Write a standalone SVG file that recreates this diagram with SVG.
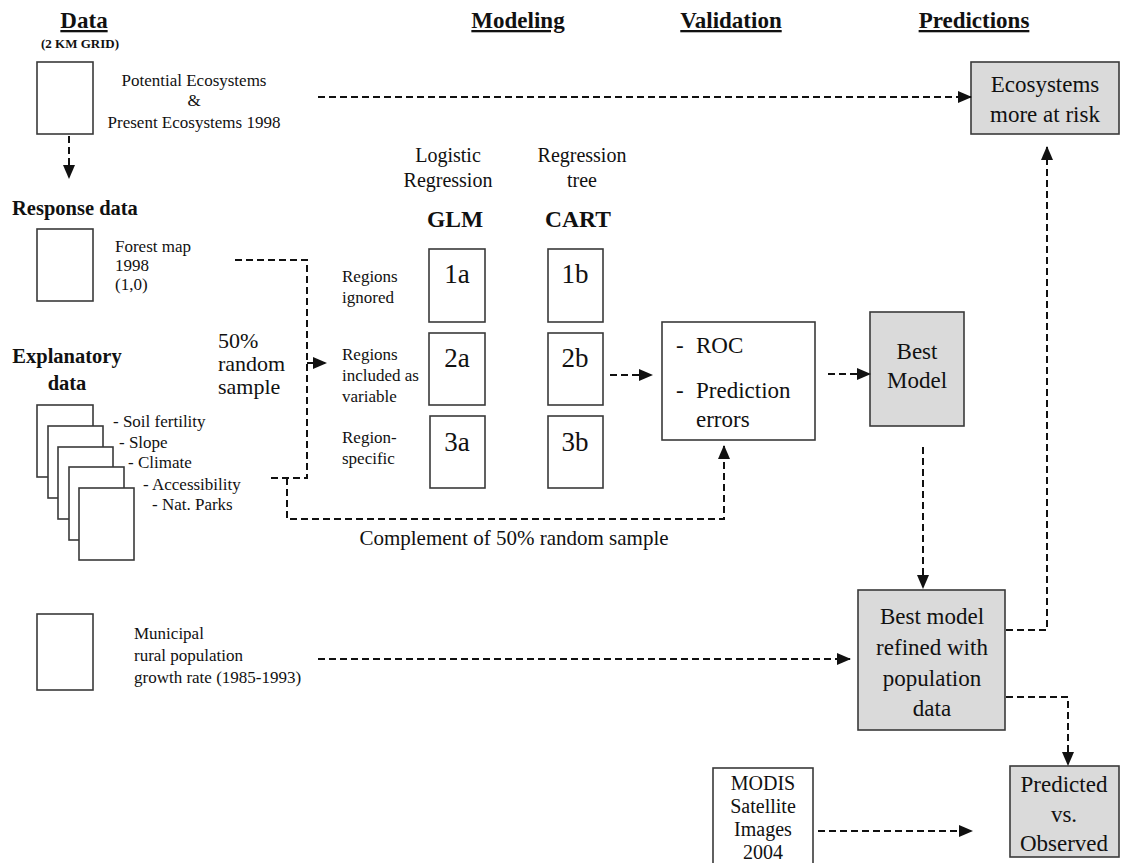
<svg xmlns="http://www.w3.org/2000/svg" width="1121" height="863" viewBox="0 0 1121 863">
<style>
text{font-family:"Liberation Serif","Times New Roman",serif;fill:#111}
.hd{font-size:23px;font-weight:bold;text-decoration:underline;text-anchor:middle}
.b{font-weight:bold}
.s17{font-size:17px}
.s20{font-size:20px}
.s23{font-size:23px}
.s27{font-size:27px}
.c{text-anchor:middle}
.box{fill:#fff;stroke:#3a3a3a;stroke-width:1.6}
.gbox{fill:#dadada;stroke:#3a3a3a;stroke-width:1.6}
.dash{fill:none;stroke:#111;stroke-width:2;stroke-dasharray:7,4}
</style>
<defs>
<marker id="ah" markerUnits="userSpaceOnUse" markerWidth="14" markerHeight="14" refX="13" refY="7" orient="auto">
<path d="M0,1 L14,7 L0,13 z" fill="#111"/>
</marker>
</defs>

<g id="headers">
<text class="hd" x="84" y="28">Data</text>
<text class="b" x="80" y="48" font-size="13" text-anchor="middle">(2 KM GRID)</text>
<text class="hd" x="518" y="28">Modeling</text>
<text class="hd" x="731" y="28">Validation</text>
<text class="hd" x="974" y="28">Predictions</text>
</g>

<g id="n-ecosys-data">
<rect class="box" x="37" y="62" width="56" height="72"/>
<text class="s17 c" x="194" y="86">Potential Ecosystems</text>
<text class="s17 c" x="194" y="106">&amp;</text>
<text class="s17 c" x="194" y="128">Present Ecosystems 1998</text>
</g>

<g id="n-response">
<text class="b" x="12" y="215" font-size="20.5">Response data</text>
<rect class="box" x="37" y="229" width="56" height="72"/>
<text class="s17" x="115" y="252">Forest map</text>
<text class="s17" x="115" y="271">1998</text>
<text class="s17" x="115" y="290">(1,0)</text>
</g>

<g id="n-explanatory">
<text class="b c" x="67" y="363" font-size="20.5">Explanatory</text>
<text class="b c" x="67" y="390" font-size="20.5">data</text>
<rect class="box" x="37" y="405" width="56" height="72"/>
<rect class="box" x="48" y="426" width="55" height="72"/>
<rect class="box" x="58" y="447" width="55" height="72"/>
<rect class="box" x="69" y="467" width="55" height="73"/>
<rect class="box" x="79" y="488" width="55" height="72"/>
<text class="s17" x="113" y="427">- Soil fertility</text>
<text class="s17" x="119" y="448">- Slope</text>
<text class="s17" x="128" y="468">- Climate</text>
<text class="s17" x="143" y="490">- Accessibility</text>
<text class="s17" x="152" y="510">- Nat. Parks</text>
</g>

<g id="n-municipal">
<rect class="box" x="37" y="614" width="56" height="76"/>
<text class="s17" x="134" y="639">Municipal</text>
<text class="s17" x="134" y="661">rural population</text>
<text class="s17" x="134" y="683">growth rate (1985-1993)</text>
</g>

<g id="n-sample-label">
<text x="218" y="348" font-size="22">50%</text>
<text x="218" y="371" font-size="22">random</text>
<text x="218" y="394" font-size="22">sample</text>
</g>

<g id="n-glm-head">
<text class="s20 c" x="448" y="162">Logistic</text>
<text class="s20 c" x="448" y="187">Regression</text>
<text class="b c" x="455" y="227" font-size="23.5">GLM</text>
</g>
<g id="n-cart-head">
<text class="s20 c" x="582" y="162">Regression</text>
<text class="s20 c" x="582" y="187">tree</text>
<text class="b c" x="578" y="227" font-size="23.5">CART</text>
</g>

<g id="n-row-labels">
<text class="s17" x="342" y="282">Regions</text>
<text class="s17" x="342" y="303">ignored</text>
<text class="s17" x="342" y="360">Regions</text>
<text class="s17" x="342" y="381">included as</text>
<text class="s17" x="342" y="402">variable</text>
<text class="s17" x="342" y="443">Region-</text>
<text class="s17" x="342" y="464">specific</text>
</g>

<g id="n-1a"><rect class="box" x="429" y="249" width="56" height="73"/><text class="s27 c" x="457" y="283">1a</text></g>
<g id="n-2a"><rect class="box" x="429" y="333" width="56" height="72"/><text class="s27 c" x="457" y="367">2a</text></g>
<g id="n-3a"><rect class="box" x="430" y="416" width="55" height="72"/><text class="s27 c" x="457" y="451">3a</text></g>
<g id="n-1b"><rect class="box" x="548" y="249" width="55" height="73"/><text class="s27 c" x="575" y="283">1b</text></g>
<g id="n-2b"><rect class="box" x="548" y="333" width="55" height="72"/><text class="s27 c" x="575" y="367">2b</text></g>
<g id="n-3b"><rect class="box" x="548" y="416" width="55" height="72"/><text class="s27 c" x="575" y="451">3b</text></g>

<g id="n-validation">
<rect class="box" x="662" y="322" width="153" height="118"/>
<text class="s23" x="676" y="353">-</text>
<text class="s23" x="696" y="353">ROC</text>
<text class="s23" x="676" y="398">-</text>
<text class="s23" x="696" y="398">Prediction</text>
<text class="s23" x="696" y="427">errors</text>
</g>

<g id="n-best-model">
<rect class="gbox" x="870" y="312" width="94" height="114"/>
<text class="s23 c" x="917" y="359">Best</text>
<text class="s23 c" x="917" y="388">Model</text>
</g>

<g id="n-ecosys-risk">
<rect class="gbox" x="971" y="62" width="148" height="72"/>
<text class="s23 c" x="1045" y="92">Ecosystems</text>
<text class="s23 c" x="1045" y="122">more at risk</text>
</g>

<g id="n-refined">
<rect class="gbox" x="858" y="590" width="147" height="140"/>
<text class="s23 c" x="932" y="624">Best model</text>
<text class="s23 c" x="932" y="655">refined with</text>
<text class="s23 c" x="932" y="686">population</text>
<text class="s23 c" x="932" y="716">data</text>
</g>

<g id="n-modis">
<rect class="box" x="713" y="768" width="100" height="100"/>
<text class="s20 c" x="763" y="790">MODIS</text>
<text class="s20 c" x="763" y="813">Satellite</text>
<text class="s20 c" x="763" y="836">Images</text>
<text class="s20 c" x="763" y="859">2004</text>
</g>

<g id="n-predicted">
<rect class="gbox" x="1010" y="766" width="109" height="91"/>
<text class="s23 c" x="1064" y="792">Predicted</text>
<text class="s23 c" x="1064" y="822">vs.</text>
<text class="s23 c" x="1064" y="851">Observed</text>
</g>

<g id="complement-label">
<text x="514" y="545" font-size="21" text-anchor="middle">Complement of 50% random sample</text>
</g>

<g id="connectors">
<path class="dash" d="M69,136 V178" marker-end="url(#ah)"/>
<path class="dash" d="M318,97 H971" marker-end="url(#ah)"/>
<path class="dash" d="M235,260 H307 V478 H267"/>
<path class="dash" d="M307,363 H326" marker-end="url(#ah)"/>
<path class="dash" d="M287,478 V519 H724 V446" marker-end="url(#ah)"/>
<path class="dash" d="M610,375 H652" marker-end="url(#ah)"/>
<path class="dash" d="M828,374 H870" marker-end="url(#ah)"/>
<path class="dash" d="M923,447 V588" marker-end="url(#ah)"/>
<path class="dash" d="M318,659 H850" marker-end="url(#ah)"/>
<path class="dash" d="M1006,630 H1047 V147" marker-end="url(#ah)"/>
<path class="dash" d="M1006,697 H1068 V765" marker-end="url(#ah)"/>
<path class="dash" d="M818,831 H972" marker-end="url(#ah)"/>
</g>
</svg>
